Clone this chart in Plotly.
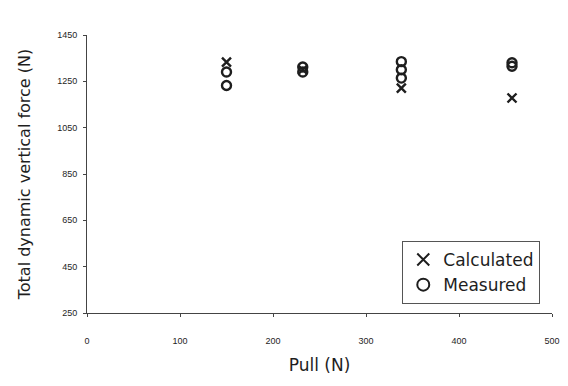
import plotly.graph_objects as go

# Calculated values
calc_pull = [150, 232, 338, 457]
calc_force = [1333, 1300, 1221, 1178]

# Measured values
meas_pull = [150, 150, 232, 232, 338, 338, 338, 457, 457]
meas_force = [1290, 1232, 1312, 1290, 1335, 1300, 1264, 1330, 1315]

x_ticks = [0, 100, 200, 300, 400, 500]
y_ticks = [250, 450, 650, 850, 1050, 1250, 1450]

ink = "#1e1e1e"
wide = "DejaVu Sans, Liberation Sans, sans-serif"

fig = go.Figure()
fig.add_trace(go.Scatter(
    x=calc_pull, y=calc_force, mode="markers", name="Calculated",
    marker=dict(symbol="x-thin", size=9, line=dict(width=2.4, color=ink), color=ink),
))
fig.add_trace(go.Scatter(
    x=meas_pull, y=meas_force, mode="markers", name="Measured",
    marker=dict(symbol="circle-open", size=9, line=dict(width=2.4, color=ink), color=ink),
))

fig.update_layout(
    width=568, height=386,
    margin=dict(l=87, r=8, t=35, b=73),
    paper_bgcolor="white", plot_bgcolor="white",
    font=dict(family="Liberation Sans, Arial, sans-serif", color=ink),
    showlegend=True,
    legend=dict(
        x=0.678, y=0.259, xanchor="left", yanchor="top",
        bgcolor="white", bordercolor="#555", borderwidth=1,
        font=dict(size=17, color=ink, family=wide),
        itemsizing="constant",
        tracegroupgap=0,
    ),
    xaxis=dict(
        range=[0, 500], tickvals=x_ticks, ticktext=[str(v) for v in x_ticks],
        showgrid=False, zeroline=False, showline=True, linecolor="#444", linewidth=1,
        ticks="outside", ticklen=3, tickcolor="#444",
        tickfont=dict(size=9, color=ink), ticklabelstandoff=16,
        title=dict(text="Pull (N)", font=dict(size=17, color=ink, family=wide), standoff=14),
    ),
    yaxis=dict(
        range=[250, 1450], tickvals=y_ticks, ticktext=[str(v) for v in y_ticks],
        showgrid=False, zeroline=False, showline=True, linecolor="#444", linewidth=1,
        ticks="outside", ticklen=3, tickcolor="#444",
        tickfont=dict(size=9, color=ink), ticklabelstandoff=4,
        title=dict(text="Total dynamic vertical force (N)", font=dict(size=16, color=ink, family=wide), standoff=22),
    ),
)

fig.write_html("out.html")
